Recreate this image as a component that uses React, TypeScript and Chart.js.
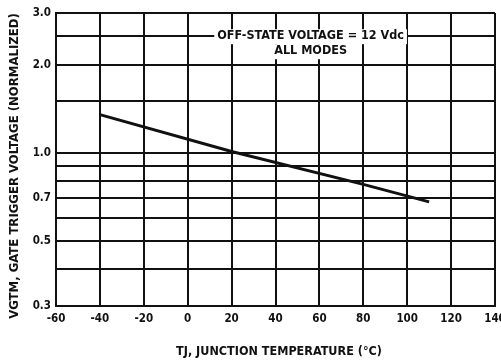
import React, { useEffect, useRef } from "react";
import { Chart, registerables } from "chart.js";

Chart.register(...registerables);

const temperatures = [-40, 20, 80, 110];
const voltages = [1.35, 1.01, 0.78, 0.68];
const yGridValues = [0.3, 0.4, 0.5, 0.6, 0.7, 0.8, 0.9, 1.0, 1.5, 2.0, 2.5, 3.0];
const yLabelValues = [0.3, 0.5, 0.7, 1.0, 2.0, 3.0];
const xTickValues = [-60, -40, -20, 0, 20, 40, 60, 80, 100, 120, 140];
const annotationLines = ["OFF-STATE VOLTAGE = 12 Vdc", "ALL MODES"];
const yTitle = "VGTM, GATE TRIGGER VOLTAGE (NORMALIZED)";
const xTitle = "TJ, JUNCTION TEMPERATURE (°C)";

const FONT = "'DejaVu Sans Condensed', 'Liberation Sans Narrow', 'DejaVu Sans', sans-serif";

const overlay = {
  id: "overlay",
  afterDraw(chart: any) {
    const ctx = chart.ctx;
    ctx.save();
    // annotation
    ctx.font = `bold 12.5px ${FONT}`;
    ctx.textAlign = "center";
    ctx.textBaseline = "middle";
    const cx = chart.scales.x.getPixelForValue(56);
    const y1 = chart.scales.y.getPixelForValue(2.5);
    const ys = [y1, y1 + 15];
    annotationLines.forEach((t, i) => {
      const w = ctx.measureText(t).width;
      ctx.fillStyle = "#fff";
      ctx.fillRect(cx - w / 2 - 3, ys[i] - 7, w + 6, 15);
    });
    annotationLines.forEach((t, i) => {
      ctx.fillStyle = "#111";
      ctx.fillText(t, cx, ys[i]);
    });
    // y title
    ctx.save();
    ctx.translate(15, 166);
    ctx.rotate(-Math.PI / 2);
    ctx.font = `bold 13px ${FONT}`;
    ctx.fillStyle = "#111";
    ctx.fillText(yTitle, 0, 0);
    ctx.restore();
    // x title
    ctx.font = `bold 12.5px ${FONT}`;
    ctx.fillStyle = "#111";
    ctx.fillText(xTitle, 279, 352);
    ctx.restore();
  },
};

export default function App() {
  const ref = useRef<HTMLCanvasElement>(null);
  useEffect(() => {
    document.body.style.margin = "0";
    const chart = new Chart(ref.current!, {
      type: "line",
      data: {
        datasets: [
          {
            data: temperatures.map((t, i) => ({ x: t, y: voltages[i] })),
            borderColor: "#111",
            borderWidth: 3,
            pointRadius: 0,
            tension: 0,
          },
        ],
      },
      options: {
        animation: false,
        responsive: false,
        layout: { padding: { top: 13, right: 6, left: 0, bottom: 0 } },
        plugins: { legend: { display: false }, tooltip: { enabled: false } },
        scales: {
          x: {
            type: "linear",
            min: -60,
            max: 140,
            afterBuildTicks: (s: any) => {
              s.ticks = xTickValues.map((v) => ({ value: v }));
            },
            afterFit: (s: any) => {
              s.height = 56;
              s.paddingLeft = 0;
              s.paddingRight = 0;
            },
            grid: { color: "#111", lineWidth: 2, drawTicks: false },
            border: { color: "#111", width: 2 },
            ticks: {
              color: "#111",
              font: { family: FONT, size: 11.5, weight: "bold" },
              padding: 6,
              maxRotation: 0,
              autoSkip: false,
              callback: (v: any) => String(v),
            },
          },
          y: {
            type: "logarithmic",
            min: 0.3,
            max: 3.0,
            afterBuildTicks: (s: any) => {
              s.ticks = yGridValues.map((v) => ({ value: v }));
            },
            afterFit: (s: any) => {
              s.width = 56;
              s.paddingTop = 0;
              s.paddingBottom = 0;
            },
            grid: { color: "#111", lineWidth: 2, drawTicks: false },
            border: { color: "#111", width: 2 },
            ticks: {
              color: "#111",
              font: { family: FONT, size: 11.5, weight: "bold" },
              padding: 5,
              autoSkip: false,
              callback: (v: any) => {
                const n = Number(v);
                return yLabelValues.some((l) => Math.abs(l - n) < 1e-6) ? n.toFixed(1) : "";
              },
            },
          },
        },
      },
      plugins: [overlay],
    } as any);
    return () => chart.destroy();
  }, []);
  return (
    <div style={{ position: "absolute", left: 0, top: 0, width: 501, height: 362 }}>
      <canvas ref={ref} width={501} height={362} />
    </div>
  );
}
